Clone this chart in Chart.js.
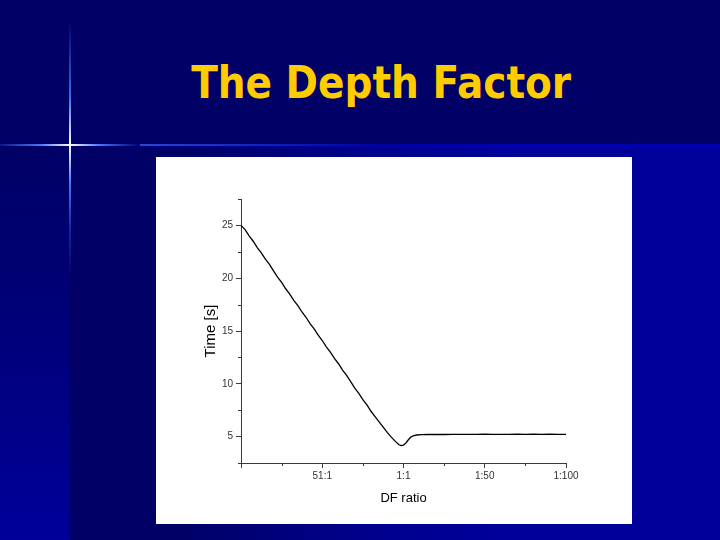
<!DOCTYPE html>
<html>
<head>
<meta charset="utf-8">
<script src="https://cdn.jsdelivr.net/npm/chart.js@4/dist/chart.umd.min.js"></script>
<style>
  html, body { margin: 0; padding: 0; }
  body { width: 720px; height: 540px; position: relative; overflow: hidden; background: #000066; }
  .abs { position: absolute; }
  #leftStrip { left: 0; top: 146px; width: 70px; height: 394px; background: linear-gradient(to bottom, #000066 0%, #00007c 50%, #00009a 100%); }
  #rightArea { left: 70px; top: 146px; width: 650px; height: 394px; background: linear-gradient(to right, #000066 0%, #000066 16%, #00008c 45%, #00009a 65%, #00009a 100%); }
  #band { left: 70px; top: 144px; width: 650px; height: 4px; background: linear-gradient(to right, rgba(0,0,170,0) 0%, rgba(0,0,176,0.6) 30%, #0000b0 70%, #0000b0 100%); }
  #hLine { left: 0; top: 144px; width: 140px; height: 2px; background: linear-gradient(to right, rgba(60,110,255,0.2) 0%, #4a7cff 30%, #ffffff 50%, #4a7cff 70%, rgba(60,110,255,0) 100%); }
  #hLine2 { left: 140px; top: 144px; width: 240px; height: 2px; background: linear-gradient(to right, rgba(60,100,255,0.7) 0%, rgba(30,60,230,0) 100%); }
  #vLine { left: 69px; top: 20px; width: 2px; height: 260px; background: linear-gradient(to bottom, rgba(60,110,255,0) 0%, #3a6cf0 30%, #ffffff 48%, #4a7cff 62%, rgba(40,80,230,0.5) 80%, rgba(40,80,230,0) 100%); }
  #title { left: 0; top: 56px; width: 762px; height: 54px; line-height: 54px; text-align: center; color: #FFCC00; font-family: "DejaVu Sans", sans-serif; font-weight: bold; font-size: 44px; white-space: nowrap; }
  #title span { display: inline-block; transform-origin: center; }
  #box { left: 156px; top: 157px; width: 476px; height: 367px; background: #ffffff; }
</style>
</head>
<body>
<div class="abs" id="leftStrip"></div>
<div class="abs" id="rightArea"></div>
<div class="abs" id="band"></div>
<div class="abs" id="hLine2"></div>
<div class="abs" id="hLine"></div>
<div class="abs" id="vLine"></div>
<div class="abs" id="title"><span id="titleText">The Depth Factor</span></div>
<div class="abs" id="box"><canvas id="c" width="476" height="367"></canvas></div>
<script>
// ---- data ----
const dfPosition = [0, 2.5, 5, 7.5, 10, 12.5, 15, 17.5, 20, 22.5, 25, 27.5, 30, 32.5, 35, 37.5, 40, 42.5, 45, 47.5, 50, 52.5, 55, 57.5, 60, 62.5, 65, 67.5, 70, 72.5, 75, 77.5, 80, 82.5, 85, 87.5, 90, 92.5, 95, 97, 98.5, 100, 101.5, 103, 104.5, 106, 108, 111, 115, 120, 125, 130, 135, 140, 145, 150, 155, 160, 165, 170, 175, 180, 185, 190, 195, 200];
const timeSeconds = [25.0, 24.6, 24.0, 23.5, 22.9, 22.4, 21.8, 21.3, 20.7, 20.1, 19.6, 19.0, 18.5, 17.9, 17.4, 16.8, 16.3, 15.7, 15.2, 14.6, 14.1, 13.5, 13.0, 12.4, 11.9, 11.3, 10.8, 10.2, 9.6, 9.1, 8.5, 8.0, 7.4, 6.9, 6.4, 5.9, 5.4, 4.95, 4.55, 4.25, 4.15, 4.2, 4.4, 4.7, 4.95, 5.08, 5.15, 5.19, 5.2, 5.21, 5.2, 5.22, 5.21, 5.22, 5.21, 5.23, 5.22, 5.22, 5.21, 5.23, 5.22, 5.24, 5.21, 5.23, 5.22, 5.22];
const xMajorTicks = [0, 50, 100, 150, 200];
const xTickLabels = ["", "51:1", "1:1", "1:50", "1:100"];
const xMinorTicks = [25, 75, 125, 175];
const yMajorTicks = [5, 10, 15, 20, 25];
const yMinorTicks = [2.5, 7.5, 12.5, 17.5, 22.5, 27.5];

// title width fit
(function () {
  const sp = document.getElementById('titleText');
  const w = sp.getBoundingClientRect().width;
  sp.style.transform = 'scaleX(' + (380 / w) + ')';
})();

const axisColor = '#3a3a3a';
const minorTicks = {
  id: 'minorTicks',
  afterDraw(chart) {
    const ctx = chart.ctx;
    const xs = chart.scales.x, ys = chart.scales.y;
    ctx.save();
    ctx.strokeStyle = axisColor;
    ctx.lineWidth = 1;
    ctx.beginPath();
    xMinorTicks.forEach(v => {
      const px = Math.round(xs.getPixelForValue(v)) + 0.5;
      ctx.moveTo(px, ys.bottom);
      ctx.lineTo(px, ys.bottom + 3);
    });
    yMinorTicks.forEach(v => {
      const py = Math.round(ys.getPixelForValue(v)) + 0.5;
      ctx.moveTo(xs.left, py);
      ctx.lineTo(xs.left - 3, py);
    });
    ctx.stroke();
    ctx.restore();
  }
};

new Chart(document.getElementById('c'), {
  type: 'line',
  data: {
    datasets: [{
      data: dfPosition.map((x, i) => ({ x: x, y: timeSeconds[i] })),
      borderColor: '#000000',
      borderWidth: 1.3,
      pointRadius: 0,
      tension: 0,
      fill: false
    }]
  },
  options: {
    responsive: false,
    animation: false,
    layout: { padding: { left: 45, right: 66, top: 42, bottom: 16 } },
    plugins: { legend: { display: false }, tooltip: { enabled: false }, title: { display: false } },
    scales: {
      x: {
        type: 'linear',
        min: 0, max: 200,
        afterBuildTicks: s => { s.ticks = xMajorTicks.map(v => ({ value: v })); },
        afterFit: s => { s.height = 45; },
        ticks: {
          autoSkip: false, maxRotation: 0, padding: 2,
          color: '#333333',
          font: { family: 'Arial, "Liberation Sans", sans-serif', size: 10 },
          callback: (v) => { const i = xMajorTicks.indexOf(v); return i >= 0 ? xTickLabels[i] : ''; }
        },
        grid: { drawOnChartArea: false, drawTicks: true, tickLength: 5, tickColor: axisColor, color: axisColor },
        border: { display: true, color: axisColor, width: 1 },
        title: { display: true, text: 'DF ratio', color: '#000000', padding: { top: 4, bottom: 2 },
                 font: { family: 'Arial, "Liberation Sans", sans-serif', size: 13 } }
      },
      y: {
        type: 'linear',
        min: 2.5, max: 27.5,
        afterBuildTicks: s => { s.ticks = yMajorTicks.map(v => ({ value: v })); },
        afterFit: s => { s.width = 40; },
        ticks: {
          padding: 3,
          color: '#333333',
          font: { family: 'Arial, "Liberation Sans", sans-serif', size: 10 },
          callback: (v) => String(v)
        },
        grid: { drawOnChartArea: false, drawTicks: true, tickLength: 5, tickColor: axisColor, color: axisColor },
        border: { display: true, color: axisColor, width: 1 },
        title: { display: true, text: 'Time [s]', color: '#000000', padding: { top: 1, bottom: 2 },
                 font: { family: 'Arial, "Liberation Sans", sans-serif', size: 15 } }
      }
    }
  },
  plugins: [minorTicks]
});
</script>
</body>
</html>
